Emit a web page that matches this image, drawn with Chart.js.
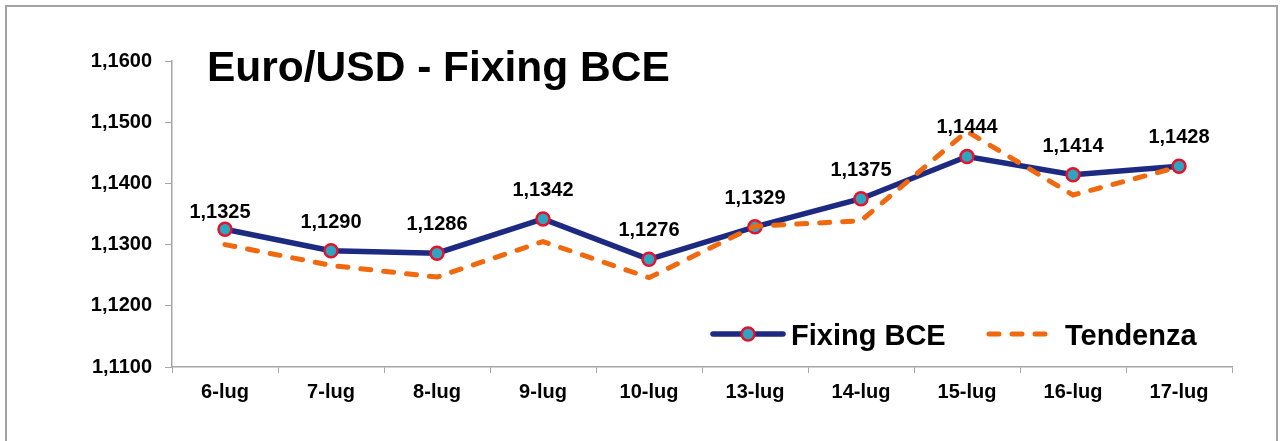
<!DOCTYPE html>
<html>
<head>
<meta charset="utf-8">
<script src="https://cdn.jsdelivr.net/npm/chart.js@4/dist/chart.umd.min.js"></script>
<style>
  html, body { margin: 0; padding: 0; background: #fff; overflow: hidden; }
  #wrap { position: relative; width: 1283px; height: 441px; }
  #frame { position: absolute; left: 5px; top: 5px; width: 1269px; height: 470px; border: 2px solid #a3a3a3; }
  #myChart { position: absolute; left: 0; top: 0; }
</style>
</head>
<body>
<div id="wrap">
  <div id="frame"></div>
  <canvas id="myChart" width="1283" height="441"></canvas>
</div>
<script>
const giorni = ['6-lug', '7-lug', '8-lug', '9-lug', '10-lug', '13-lug', '14-lug', '15-lug', '16-lug', '17-lug']
const fixingBce = [1.1325, 1.1290, 1.1286, 1.1342, 1.1276, 1.1329, 1.1375, 1.1444, 1.1414, 1.1428]
const tendenza = [1.1300, 1.1266, 1.1247, 1.1305, 1.1246, 1.1330, 1.1339, 1.1485, 1.1381, 1.1427]
const titolo = 'Euro/USD - Fixing BCE'
const nomi = ['Fixing BCE', 'Tendenza']

const BLU = '#1c2a82'
const ARANCIO = '#f0690f'
const TEAL = '#2ea5c0'
const ROSSO = '#e3132f'
const GRIGIO = '#a6a6a6'
const FONT = "'Liberation Sans', Arial, sans-serif"

const fmt = v => Number(v).toFixed(4).replace('.', ',')

// title, value labels and legend drawn on the canvas
const extra = {
  id: 'extra',
  afterDatasetsDraw(chart) {
    const ctx = chart.ctx
    ctx.save()
    ctx.fillStyle = '#000'

    // data labels above the Fixing points
    ctx.font = 'bold 20px ' + FONT
    ctx.textAlign = 'center'
    ctx.textBaseline = 'alphabetic'
    const meta = chart.getDatasetMeta(1)
    meta.data.forEach((pt, i) => {
      let dx = 0, dy = 23
      if (i == 0) { dx = -5; dy = 11 }
      ctx.fillText(fmt(fixingBce[i]), pt.x + dx, pt.y - dy)
    })

    // title
    ctx.font = 'bold 42.5px ' + FONT
    ctx.textAlign = 'left'
    ctx.fillText(titolo, 207, 81)

    // legend
    const ly = 334
    ctx.lineCap = 'round'
    ctx.strokeStyle = BLU
    ctx.lineWidth = 5.5
    ctx.beginPath()
    ctx.moveTo(713, ly)
    ctx.lineTo(783, ly)
    ctx.stroke()
    ctx.beginPath()
    ctx.arc(748, ly, 6.5, 0, Math.PI * 2)
    ctx.fillStyle = TEAL
    ctx.fill()
    ctx.lineWidth = 2.5
    ctx.strokeStyle = ROSSO
    ctx.stroke()

    ctx.strokeStyle = ARANCIO
    ctx.lineWidth = 5
    ctx.setLineDash([10, 13])
    ctx.beginPath()
    ctx.moveTo(989, ly)
    ctx.lineTo(1052, ly)
    ctx.stroke()
    ctx.setLineDash([])

    ctx.fillStyle = '#000'
    ctx.font = 'bold 29px ' + FONT
    ctx.fillText(nomi[0], 791, 345)
    ctx.fillText(nomi[1], 1065, 345)
    ctx.restore()
  }
}

;(() => {
  'use strict'
  const ctx = document.getElementById('myChart')

  // eslint-disable-next-line no-unused-vars
  var myChart = new Chart(ctx, {
    type: 'line',
    data: {
      labels: giorni,
      datasets: [
        {
          label: nomi[1],
          data: tendenza,
          order: 1,
          borderColor: ARANCIO,
          borderWidth: 5,
          borderDash: [10, 13],
          borderCapStyle: 'round',
          pointRadius: 0,
          lineTension: 0,
          fill: false
        },
        {
          label: nomi[0],
          data: fixingBce,
          order: 2,
          borderColor: BLU,
          borderWidth: 5.5,
          pointRadius: 6.5,
          pointBackgroundColor: TEAL,
          pointBorderColor: ROSSO,
          pointBorderWidth: 2.5,
          lineTension: 0,
          fill: false
        }
      ]
    },
    options: {
      responsive: false,
      animation: false,
      layout: { padding: { top: 61, right: 51, bottom: 0, left: 0 } },
      scales: {
        x: {
          offset: true,
          grid: { offset: true, drawOnChartArea: false, tickLength: 6, color: GRIGIO },
          border: { color: GRIGIO, width: 1.5 },
          ticks: { color: '#000', font: { family: FONT, size: 20, weight: 'bold' }, padding: 7, maxRotation: 0 },
          afterFit(scale) { scale.height = 74 }
        },
        y: {
          min: 1.11,
          max: 1.16,
          grid: { drawOnChartArea: false, tickLength: 7, color: GRIGIO },
          border: { color: GRIGIO, width: 1.5 },
          ticks: {
            stepSize: 0.01,
            color: '#000',
            padding: 13,
            font: { family: FONT, size: 20, weight: 'bold' },
            callback: v => fmt(v)
          },
          afterFit(scale) { scale.width = 172 }
        }
      },
      plugins: {
        legend: { display: false },
        tooltip: { enabled: false }
      }
    },
    plugins: [extra]
  })
})()
</script>
</body>
</html>
